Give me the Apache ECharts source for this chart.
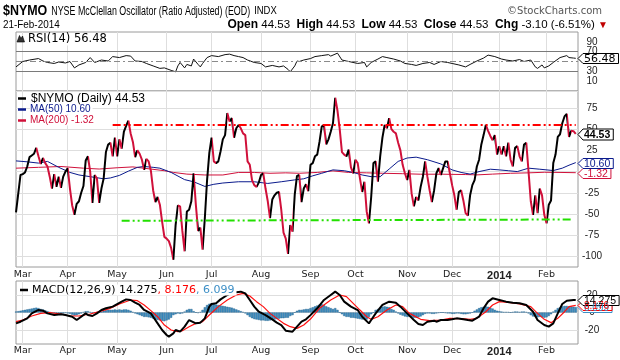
<!DOCTYPE html>
<html><head><meta charset="utf-8">
<script src="https://cdn.jsdelivr.net/npm/echarts@6/dist/echarts.min.js"></script>
<style>html,body{margin:0;padding:0;background:#fff}#c{width:620px;height:360px}</style>
</head><body><div id="c"></div>
<script>
// ---------- calendar ----------
const firstDay = '2013-02-26';
const lastDay = '2014-02-21';
const padDay = '2014-02-24';
const holidays = ['2013-03-29','2013-05-27','2013-07-04','2013-09-02','2013-11-28','2013-12-25','2014-01-01','2014-01-20','2014-02-17'];
const monthNames = ['Jan','Feb','Mar','Apr','May','Jun','Jul','Aug','Sep','Oct','Nov','Dec'];

// ---------- $NYMO daily values ----------
const nymo = [
-48,-26,-4,-3,-1,6,17,19,21,28,
18,9,16,10,6,-6,-20,-3,-18,-6,
-19,-6,0,4,-20,-40,-51,-38,-35,-25,
-17,13,18,0,-37,-4,-8,-37,-20,-8,
23,32,34,18,40,18,38,27,47,54,
60,45,35,17,25,21,14,2,15,12,
1,-22,-36,-30,-39,-59,-77,-79,-82,-90,
-104,-63,-40,-41,-70,-94,-47,-45,-35,-2,
-39,-70,-66,-92,-55,-10,22,40,12,10,
12,24,38,43,69,59,63,40,51,55,
51,45,43,12,8,-10,-16,-18,-13,-4,
-2,-20,-35,-55,-33,-28,-25,-24,-45,-72,
-79,-97,-63,-71,-27,-5,-4,-36,-20,-15,
-23,8,10,18,20,35,53,55,32,38,
47,57,87,72,50,23,20,18,26,5,
-2,14,10,-8,-24,-12,-47,-61,-30,10,
12,-12,18,40,55,51,63,50,47,45,
34,25,8,-2,-10,2,-26,-41,-30,-34,
-18,-6,12,-6,-22,-36,-22,-2,4,-4,
4,12,12,-2,-16,-28,-45,-24,-22,-34,
-49,-52,-28,-16,-10,6,14,32,43,55,
48,42,37,43,20,30,20,30,18,34,
14,6,28,30,18,12,32,34,0,-35,
-51,-28,-49,-20,-28,-51,-61,-39,-34,10,
20,41,44,57,65,68,41,48,47.63,44.53
];

// moving averages: [day index, value]
const ma50 = [[0,12.6],[5,11.5],[10,10],[14,12],[19,5],[24,-1],[28,-4],[33,-6],[39,-8.5],[42,-7.5],[46,-4.5],[50,0.5],[54,5],[57,6],[61,5],[64,4],[69,-1],[75,-9.5],[79,-12],[84,-17.5],[88,-15],[92,-13.5],[99,-12],[106,-12],[112,-14],[118,-12],[124,-9.8],[128,-8.5],[132,-5],[136,-2],[141,2],[146,1],[150,-1],[154,-4],[158,-6],[162,-6],[166,3],[170,12],[174,16],[178,17],[183,14],[189,9],[194,2],[198,-1],[202,-3],[206,0],[211,2.8],[215,2],[219,1],[223,0],[228,4],[233,2.8],[239,1.2],[243,4],[246,7.5],[249,10.6]];
const ma200 = [[0,4],[10,5],[20,6],[30,4],[37,3],[45,4.5],[52,5.5],[60,3],[66,1],[70,-1],[76,-3],[84,-4],[92,-4],[99,-1],[106,-1],[113,-2],[120,-1.5],[126,-2],[134,-1],[141,0.8],[148,-1],[156,-1.5],[163,-2],[172,-2.5],[180,-3.1],[190,-3.1],[200,-3.5],[205,-3.9],[212,-3],[220,-2],[228,-1.5],[235,-0.8],[242,-1],[249,-1.32]];

// trend lines drawn on the chart: [date, value]
const resistanceLine = [['2013-04-29',55],['2014-02-21',55]];
const supportLine = [['2013-05-03',-58],['2014-02-19',-56.5]];

// RSI(14)
const rsi = [[0,39],[3,50],[6,53],[10,56],[12,51],[14,48],[17,46],[19,49],[22,47],[24,50],[26,37],[28,43],[31,48],[33,58],[35,48],[38,53],[41,51],[43,60],[46,58],[49,62],[51,61],[53,51],[56,50],[58,46],[61,41],[64,36],[66,37],[69,32],[71,29],[72,41],[73,48],[75,37],[76,44],[78,41],[79,55],[81,44],[82,39],[83,46],[85,58],[87,62],[90,60],[93,64],[95,65],[97,62],[99,60],[101,58],[103,53],[106,48],[109,46],[111,39],[114,42],[117,39],[119,41],[121,34],[122,29],[124,41],[125,51],[126,50],[128,53],[131,56],[133,60],[136,62],[139,64],[140,61],[143,67],[145,53],[147,51],[149,49],[152,46],[155,48],[156,39],[158,48],[161,55],[163,60],[165,58],[168,55],[171,51],[173,46],[176,44],[178,42],[181,46],[184,48],[186,44],[189,50],[192,48],[194,46],[197,43],[200,39],[202,44],[205,51],[208,57],[210,63],[213,60],[216,55],[218,53],[221,51],[224,54],[226,50],[229,53],[231,39],[232,36],[234,43],[235,37],[237,41],[239,48],[242,58],[245,62],[246,58],[248,57],[249,56.48]];
const rsiLevels = [70, 30];
const rsiMid = 50;
const rsiTickLabels = [30, 50, 70, 90];
const rsiLowLabel = 10;

// MACD(12,26,9)
const macd = [[0,-12.4],[2,-10.5],[5,-6.7],[7,-1],[10,2.9],[12,2.1],[14,-1],[17,-2.9],[20,-2.1],[22,-2.9],[25,-4.8],[27,-8.6],[29,-4.8],[31,-1],[32,-2.9],[34,-4],[36,-1],[38,2.9],[40,4.8],[43,6.7],[45,9.7],[47,12.4],[49,15],[51,14.3],[53,11.2],[55,8.6],[57,2.9],[60,-1],[61,-4.8],[63,-12.4],[65,-20],[67,-25.7],[68,-27.6],[70,-23.8],[71,-20],[73,-21.9],[75,-16.2],[77,-8.6],[80,-12.4],[82,-11.6],[84,-6.7],[86,6.7],[87,9.7],[89,10.5],[91,15],[94,20],[96,22.7],[100,23.8],[102,21.9],[104,14.3],[106,6.7],[108,0.9],[111,-2.9],[114,-7.8],[116,-11.6],[118,-14.3],[120,-20.8],[123,-21.9],[125,-16.2],[127,-10.5],[129,-7.8],[131,-3],[134,4.8],[137,14.3],[140,20],[142,23.8],[144,20],[146,12.4],[149,6.7],[152,2.8],[154,-4.8],[157,-12.4],[158,-8.6],[160,-1],[163,8.6],[166,12.4],[169,11.2],[171,6.7],[174,-1],[177,-8.6],[179,-13.1],[181,-14.3],[183,-10.5],[186,-9.3],[187,-10.5],[189,-8.6],[192,-8.6],[194,-7.8],[196,-6.7],[199,-7.8],[201,-8.6],[203,-9.3],[206,-4.8],[208,4.8],[210,12.4],[212,16.2],[215,14.3],[218,12.4],[221,11.2],[224,10.5],[227,8.6],[230,0.9],[232,-8.6],[235,-14.3],[237,-16.2],[239,-12.4],[241,-1],[243,9.7],[245,13.5],[248,14.3],[249,14.275]];
const signal = [[0,-10.5],[3,-8.6],[7,-4],[11,-1],[15,-0.2],[20,-1.7],[24,-4],[28,-4],[33,-1.7],[37,1],[42,4.8],[46,9.7],[51,14.3],[54,13.5],[57,8.6],[60,2.1],[63,-4.8],[66,-14.3],[69,-20],[72,-21.9],[74,-20.8],[77,-16.2],[80,-12.4],[83,-10.5],[86,-2.9],[90,6.7],[94,14.3],[98,20],[101,21.9],[104,18.9],[107,12.4],[110,6.7],[113,-1],[116,-6.7],[119,-12.4],[122,-16.2],[125,-18.1],[128,-14.3],[131,-7.5],[135,4.8],[140,14.3],[144,20],[147,18.1],[150,10.5],[153,2.8],[156,-4.8],[158,-7.8],[161,-4.8],[165,2.8],[169,8.6],[172,6.7],[175,-1],[180,-7.8],[184,-9.3],[189,-8.6],[193,-6.7],[198,-7.1],[202,-7.8],[205,-6.7],[209,0.9],[212,8.6],[215,12.4],[220,11.2],[224,9.7],[229,6.7],[232,-1],[235,-7.8],[238,-11.6],[241,-6.7],[244,0.9],[246,6.7],[249,8.176]];
const hist = [
1,1.5,2,2.5,3,3.5,4,4.5,5,5.5,
5,4,3.5,2.5,1.5,0.5,-0.5,-1,-0.5,-0.5,
-1,-1,-0.5,-1,-1.5,-2.5,-3.5,-3,-2,-1,
0.5,1.5,1.5,0.5,-0.5,0,0.5,0,1,2,
2.5,3,3,3,3.5,3,3.5,3,3.5,3.5,
3,2,0.5,-1,-2,-3,-4,-5,-5,-5.5,
-6,-7,-8,-8.5,-9,-9.5,-10,-9,-8,-6,
-3,-2,-1,-1.5,-1,1,3,4,4,1.5,
0,-0.5,0.5,3,6,8.5,10,10.5,10,9,
8.5,8,7.5,7,6.5,6,5.5,4.5,3.5,2.5,
1.5,0.5,-1,-3,-5,-6.5,-7.5,-8,-8.5,-9,
-9,-9.5,-9.5,-9,-8.5,-8,-7.5,-7,-6.5,-6.5,
-6,-6,-4,-3,0,2,3,3,3.5,4,
4,5,6,7,8,9,9.5,8.5,7,6,
5,4,5,3,0,-2,-4,-5,-5,-6,
-6,-6.5,-7,-7.5,-8,-8,-8,-5,-2,0,
3,4,5.5,6.5,7,6.5,6,4,3,1,
-1,-2.5,-3.5,-4.5,-5,-5,-5.5,-6,-6,-5.5,
-4.5,-3,-1.5,-1,-1,-1.5,-1.5,-1,-0.5,0,
0,-0.5,-1,-1,-1.5,-1.5,-1,-1,-1.5,-2,
-2,-1.5,-1,0,2,3.5,5,6,6.5,7,
6.5,5.5,4.5,3,2,1.5,1,0.5,0.5,0.5,
0,0.5,1,1,0.5,1,1,0.5,-1,-3,
-4.5,-5,-5.5,-5,-5.5,-6,-5.5,-4,-2,1,
3,5,6,7,7.5,7.5,7,7,6.5,6.099
];

// ---------- helpers ----------
function tradingDays(a, b) {
  const out = [];
  const d = new Date(a + 'T00:00:00Z');
  const end = new Date(b + 'T00:00:00Z');
  while (d <= end) {
    const s = d.toISOString().slice(0, 10);
    const wd = d.getUTCDay();
    if (wd !== 0 && wd !== 6 && holidays.indexOf(s) < 0) out.push(s);
    d.setUTCDate(d.getUTCDate() + 1);
  }
  return out;
}
const dates = tradingDays(firstDay, lastDay);
const axisDates = dates.concat([padDay]);
function isMonthStart(i) {
  return i > 0 && i < axisDates.length && axisDates[i].slice(0, 7) !== axisDates[i - 1].slice(0, 7);
}
function monthLabel(v) {
  const m = +v.slice(5, 7);
  return m === 1 ? '{y|' + v.slice(0, 4) + '}' : monthNames[m - 1];
}

const UP = '#000000', DOWN = '#d0103a';
const GRID = '#dedede', BORDER = '#9a9a9a';
const pieces = [];
for (let i = 1; i < nymo.length; i++) {
  const color = nymo[i] >= nymo[i - 1] ? UP : DOWN;
  const last = pieces[pieces.length - 1];
  if (last && last.color === color) last.lte = i;
  else pieces.push({ gt: i - 1, lte: i, color: color });
}

const chart = echarts.init(document.getElementById('c'), null, { renderer: 'canvas', width: 620, height: 360 });

function xAxisCfg(gi, showLabels, margin) {
  return {
    type: 'category', gridIndex: gi, data: axisDates, boundaryGap: false,
    axisLine: { show: false }, axisTick: { show: false },
    axisLabel: {
      show: showLabels, interval: (i) => isMonthStart(i), formatter: monthLabel,
      color: '#222', fontFamily: 'DejaVu Sans', fontSize: 9.5, margin: margin,
      rich: { y: { fontWeight: 'bold', fontSize: 11, fontFamily: 'Liberation Sans', color: '#222' } }
    },
    splitLine: { show: true, interval: (i) => isMonthStart(i), lineStyle: { color: GRID, width: 1 } }
  };
}
const yLabel = { fontFamily: 'Liberation Sans', fontSize: 10, color: '#222', margin: 14, align: 'center' };

chart.setOption({
  animation: false,
  backgroundColor: '#fff',
  grid: [
    { left: 16, width: 562, top: 32, height: 59, show: true, borderColor: BORDER, borderWidth: 1, backgroundColor: '#fff' },
    { left: 16, width: 562, top: 91, height: 176, show: true, borderColor: BORDER, borderWidth: 1, backgroundColor: 'transparent' },
    { left: 16, width: 562, top: 281, height: 63, show: true, borderColor: BORDER, borderWidth: 1, backgroundColor: '#fff' }
  ],
  xAxis: [xAxisCfg(0, false, 3), xAxisCfg(1, true, 3), xAxisCfg(2, true, 2)],
  yAxis: [
    { type: 'value', gridIndex: 0, position: 'right', min: -10, max: 110, interval: 20,
      axisLine: { show: false }, axisTick: { show: false }, splitLine: { show: false },
      axisLabel: Object.assign({ formatter: v => rsiTickLabels.indexOf(Math.round(v)) >= 0 ? String(Math.round(v)) : '', showMinLabel: false, showMaxLabel: false }, yLabel) },
    { type: 'value', gridIndex: 1, position: 'right', min: -112.5, max: 95, interval: 12.5,
      axisLine: { show: false }, axisTick: { show: false },
      splitLine: { show: true, lineStyle: { color: ['rgba(0,0,0,0)', GRID] } },
      axisLabel: Object.assign({ formatter: v => (v % 25 === 0 && v >= -100 && v <= 75) ? String(v) : '', showMinLabel: false, showMaxLabel: false }, yLabel) },
    { type: 'value', gridIndex: 2, position: 'right', min: -36, max: 36, interval: 4,
      axisLine: { show: false }, axisTick: { show: false },
      splitLine: { show: true, lineStyle: { color: ['rgba(0,0,0,0)', 'rgba(0,0,0,0)', 'rgba(0,0,0,0)', 'rgba(0,0,0,0)', GRID] } },
      axisLabel: Object.assign({ formatter: v => (v === 20 || v === 0 || v === -20) ? String(v) : '', showMinLabel: false, showMaxLabel: false }, yLabel) }
  ],
  visualMap: [{ type: 'piecewise', show: false, seriesIndex: 3, dimension: 0, pieces: pieces, outOfRange: { color: UP } }],
  series: [
    { name: 'RSI', type: 'line', xAxisIndex: 0, yAxisIndex: 0, data: rsi, symbol: 'none',
      lineStyle: { color: '#111', width: 1 },
      markLine: { silent: true, symbol: 'none', label: { show: false },
        data: rsiLevels.map(v => ({ yAxis: v, lineStyle: { color: '#7a7a7a', width: 1, type: 'solid' } }))
          .concat([{ yAxis: rsiMid, lineStyle: { color: '#8a8a8a', width: 1, type: [6, 3, 2, 3] } }]) } },
    { name: 'MA200', type: 'line', xAxisIndex: 1, yAxisIndex: 1, data: ma200, symbol: 'none', lineStyle: { color: '#d0103a', width: 1 } },
    { name: 'MA50', type: 'line', xAxisIndex: 1, yAxisIndex: 1, data: ma50, symbol: 'none', lineStyle: { color: '#0a1a8c', width: 1 } },
    { name: 'NYMO', type: 'line', xAxisIndex: 1, yAxisIndex: 1, data: nymo, symbol: 'none', lineStyle: { width: 2 } },
    { name: 'Resistance', type: 'line', xAxisIndex: 1, yAxisIndex: 1, data: resistanceLine, symbol: 'none',
      lineStyle: { color: '#ff0000', width: 2, type: [8, 3, 2, 3, 2, 3] } },
    { name: 'Support', type: 'line', xAxisIndex: 1, yAxisIndex: 1, data: supportLine, symbol: 'none',
      lineStyle: { color: '#22e000', width: 2, type: [8, 3, 2, 3, 2, 3] } },
    { name: 'Hist', type: 'bar', xAxisIndex: 2, yAxisIndex: 2, data: hist, barWidth: 2.2,
      itemStyle: { color: '#3f8fc2', borderColor: '#1d5a85', borderWidth: 0.4 } },
    { name: 'Signal', type: 'line', xAxisIndex: 2, yAxisIndex: 2, data: signal, symbol: 'none', lineStyle: { color: '#ff1010', width: 1.2 } },
    { name: 'MACD', type: 'line', xAxisIndex: 2, yAxisIndex: 2, data: macd, symbol: 'none', lineStyle: { color: '#000', width: 2 } }
  ]
});

// ---------- value tags & texts ----------
const mctx = document.createElement('canvas').getContext('2d');
function tw(t, font) { mctx.font = font; return mctx.measureText(t).width; }
function tag(ai, value, text, stroke, color, font, h) {
  const y = chart.convertToPixel({ xAxisIndex: ai, yAxisIndex: ai }, [dates.length - 1, value])[1];
  const x0 = chart.convertToPixel({ xAxisIndex: ai, yAxisIndex: ai }, [axisDates.length - 1, value])[0];
  const w = tw(text, font);
  const yy = Math.round(y) + 0.5;
  const right = x0 + 6 + w + 3;
  return [
    { type: 'polygon', z: 100, shape: { points: [[x0, yy], [x0 + 5, yy - h / 2], [right, yy - h / 2], [right, yy + h / 2], [x0 + 5, yy + h / 2]] },
      style: { fill: '#fff', stroke: stroke, lineWidth: 1 } },
    { type: 'text', z: 101, x: x0 + 6, y: yy + 0.5, style: { text: text, font: font, fill: color, align: 'left', verticalAlign: 'middle', textAlign: 'left', textVerticalAlign: 'middle' } }
  ];
}
function txt(x, y, text, font, fill, extra, sx) {
  return { type: 'text', z: 90, x: x, y: y, scaleX: sx || 1, style: Object.assign({ text: text, font: font, fill: fill, align: 'left', verticalAlign: 'middle', textAlign: 'left', textVerticalAlign: 'middle' }, extra || {}) };
}
function dash(x, y, color) {
  return { type: 'line', z: 90, shape: { x1: x, y1: y, x2: x + 8, y2: y }, style: { stroke: color, lineWidth: 2.5 } };
}
const F = '"Liberation Sans", Arial, sans-serif';
const FV = '"DejaVu Sans", Verdana, sans-serif';
const lastNymo = nymo[nymo.length - 1];
const lastMa50 = ma50[ma50.length - 1][1], lastMa200 = ma200[ma200.length - 1][1];
const lastRsi = rsi[rsi.length - 1][1];
const lastMacd = macd[macd.length - 1][1], lastSig = signal[signal.length - 1][1], lastHist = hist[hist.length - 1];

const g = [];
// header row 1 (narrow type emulated with horizontal scale)
const symFont = 'bold 15px ' + F, symScale = 0.83;
const titleFont = '12px ' + F, titleScale = 0.74;
const titleText = 'NYSE McClellan Oscillator (Ratio Adjusted) (EOD)';
const xTitle = 3 + tw('$NYMO', symFont) * symScale + 4;
const xIndx = xTitle + tw(titleText, titleFont) * titleScale + 4;
g.push(txt(3, 11, '$NYMO', symFont, '#000', null, symScale));
g.push(txt(xTitle, 11.5, titleText, titleFont, '#000', null, titleScale));
g.push(txt(xIndx, 11.5, 'INDX', '10.5px ' + F, '#000', null, 0.9));
g.push(txt(602, 11, '\u00a9StockCharts.com', '10px ' + FV, '#555', { align: 'right', textAlign: 'right' }));
// header row 2
g.push(txt(3, 25, '21-Feb-2014', '11.5px ' + F, '#000', null, 0.86));
g.push({ type: 'text', z: 90, x: 608, y: 25, style: {
  text: '{b|Open} 44.53  {b|High} 44.53  {b|Low} 44.53  {b|Close} 44.53  {b|Chg} -3.10 (-6.51%) {r|\u25BC}',
  font: '11.5px ' + F, fill: '#000', align: 'right', textAlign: 'right', verticalAlign: 'middle', textVerticalAlign: 'middle',
  rich: { b: { font: 'bold 12px ' + F, fill: '#000' }, r: { font: '10px ' + F, fill: '#c00000' } } } });
// RSI low scale label placed through the RSI axis scale
const rsiLowPos = chart.convertToPixel({ xAxisIndex: 0, yAxisIndex: 0 }, [axisDates.length - 1, rsiLowLabel]);
g.push({ type: 'text', z: 90, x: rsiLowPos[0] + 14, y: rsiLowPos[1], style: { text: String(rsiLowLabel), font: '10px ' + F, fill: '#222', align: 'center', textAlign: 'center', verticalAlign: 'middle', textVerticalAlign: 'middle' } });
// RSI legend
g.push({ type: 'polygon', z: 90, shape: { points: [[17, 42], [19.5, 35.5], [21, 38.5], [22.5, 36], [24.5, 42]] }, style: { fill: '#333', stroke: '#000', lineWidth: 0.6 } });
g.push(txt(27, 39.5, 'RSI(14) ' + lastRsi.toFixed(2), '11.5px ' + FV, '#000', { backgroundColor: '#fff', padding: [0, 2, 0, 1] }));
// main legend
g.push(dash(18, 98.5, '#000'));
g.push(txt(30, 98.5, '$NYMO (Daily) ' + lastNymo.toFixed(2), '12px ' + F, '#000', { backgroundColor: '#fff', padding: [0, 2, 0, 1] }));
g.push(dash(18, 109.5, '#0a1a8c'));
g.push(txt(30, 109.5, 'MA(50) ' + lastMa50.toFixed(2), '10px ' + F, '#0a1a8c', { backgroundColor: '#fff', padding: [0, 2, 0, 0] }));
g.push(dash(18, 120.5, '#d0103a'));
g.push(txt(30, 120.5, 'MA(200) ' + lastMa200.toFixed(2), '10px ' + F, '#d0103a', { backgroundColor: '#fff', padding: [0, 2, 0, 0] }));
// MACD legend
g.push(dash(20, 290, '#000'));
g.push({ type: 'text', z: 90, x: 31, y: 290, style: {
  text: 'MACD(12,26,9) ' + lastMacd.toFixed(3) + '{r|, ' + lastSig.toFixed(3) + '}{b|, ' + lastHist.toFixed(3) + '}',
  font: '11px ' + FV, fill: '#000', backgroundColor: '#fff', padding: [0, 2, 0, 1],
  verticalAlign: 'middle', textVerticalAlign: 'middle',
  rich: { r: { font: '11px ' + FV, fill: '#ff0000' }, b: { font: '11px ' + FV, fill: '#3d8fc6' } } } });
// value tags
[].concat(
  tag(0, lastRsi, lastRsi.toFixed(2), '#000', '#000', '11px ' + FV, 10),
  tag(1, lastMa200, lastMa200.toFixed(2), '#d0103a', '#d0103a', '10.5px ' + F, 10),
  tag(1, lastMa50, lastMa50.toFixed(2), '#0a1a8c', '#0a1a8c', '10.5px ' + F, 10),
  tag(1, lastNymo, lastNymo.toFixed(2), '#000', '#000', 'bold 10.5px ' + F, 11),
  tag(2, lastHist, lastHist.toFixed(3), '#3d8fc6', '#3d8fc6', '10px ' + F, 10),
  tag(2, lastSig, lastSig.toFixed(3), '#ff0000', '#ff0000', '10px ' + F, 10),
  tag(2, lastMacd, lastMacd.toFixed(3), '#000', '#000', '10.5px ' + F, 10)
).forEach(e => g.push(e));

chart.setOption({ graphic: g });
</script>
</body></html>
